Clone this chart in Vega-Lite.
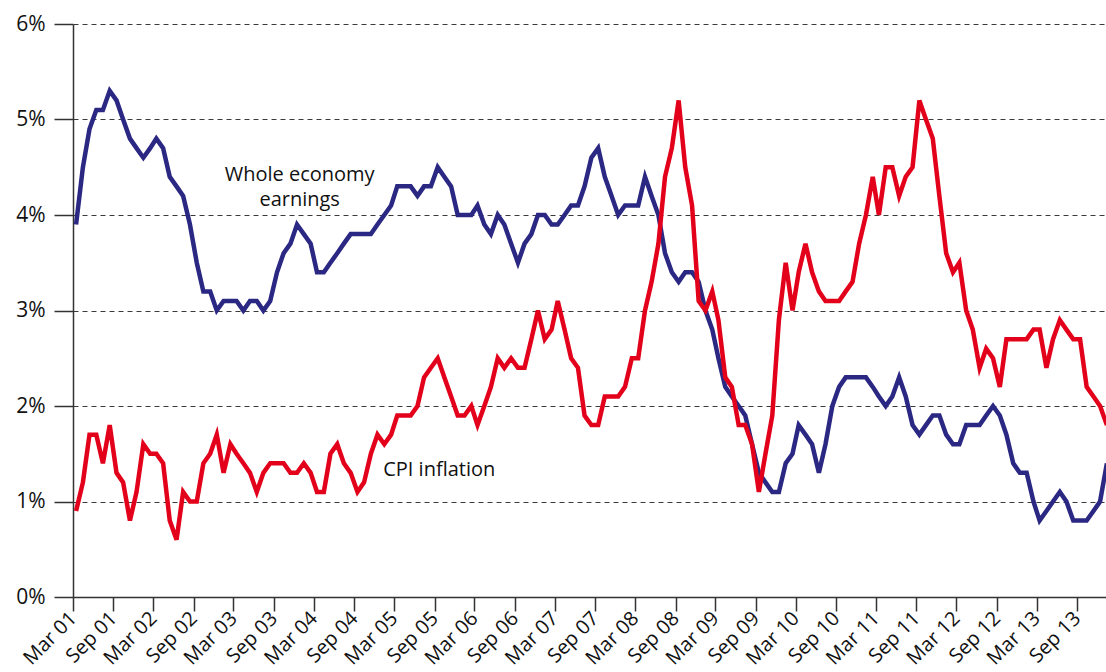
{
  "$schema": "https://vega.github.io/schema/vega-lite/v6.json",
  "width": 1033,
  "height": 573,
  "autosize": {"type": "none"},
  "padding": {"left": 73, "top": 24, "right": 0, "bottom": 75},
  "background": "white",
  "config": {"view": {"stroke": null}, "font": "Open Sans"},
  "data": {
    "values": [
      {"month":"2001-03-15","earnings":3.9,"cpi":0.9},
      {"month":"2001-04-15","earnings":4.5,"cpi":1.2},
      {"month":"2001-05-15","earnings":4.9,"cpi":1.7},
      {"month":"2001-06-15","earnings":5.1,"cpi":1.7},
      {"month":"2001-07-15","earnings":5.1,"cpi":1.4},
      {"month":"2001-08-15","earnings":5.3,"cpi":1.8},
      {"month":"2001-09-15","earnings":5.2,"cpi":1.3},
      {"month":"2001-10-15","earnings":5.0,"cpi":1.2},
      {"month":"2001-11-15","earnings":4.8,"cpi":0.8},
      {"month":"2001-12-15","earnings":4.7,"cpi":1.1},
      {"month":"2002-01-15","earnings":4.6,"cpi":1.6},
      {"month":"2002-02-15","earnings":4.7,"cpi":1.5},
      {"month":"2002-03-15","earnings":4.8,"cpi":1.5},
      {"month":"2002-04-15","earnings":4.7,"cpi":1.4},
      {"month":"2002-05-15","earnings":4.4,"cpi":0.8},
      {"month":"2002-06-15","earnings":4.3,"cpi":0.6},
      {"month":"2002-07-15","earnings":4.2,"cpi":1.1},
      {"month":"2002-08-15","earnings":3.9,"cpi":1.0},
      {"month":"2002-09-15","earnings":3.5,"cpi":1.0},
      {"month":"2002-10-15","earnings":3.2,"cpi":1.4},
      {"month":"2002-11-15","earnings":3.2,"cpi":1.5},
      {"month":"2002-12-15","earnings":3.0,"cpi":1.7},
      {"month":"2003-01-15","earnings":3.1,"cpi":1.3},
      {"month":"2003-02-15","earnings":3.1,"cpi":1.6},
      {"month":"2003-03-15","earnings":3.1,"cpi":1.5},
      {"month":"2003-04-15","earnings":3.0,"cpi":1.4},
      {"month":"2003-05-15","earnings":3.1,"cpi":1.3},
      {"month":"2003-06-15","earnings":3.1,"cpi":1.1},
      {"month":"2003-07-15","earnings":3.0,"cpi":1.3},
      {"month":"2003-08-15","earnings":3.1,"cpi":1.4},
      {"month":"2003-09-15","earnings":3.4,"cpi":1.4},
      {"month":"2003-10-15","earnings":3.6,"cpi":1.4},
      {"month":"2003-11-15","earnings":3.7,"cpi":1.3},
      {"month":"2003-12-15","earnings":3.9,"cpi":1.3},
      {"month":"2004-01-15","earnings":3.8,"cpi":1.4},
      {"month":"2004-02-15","earnings":3.7,"cpi":1.3},
      {"month":"2004-03-15","earnings":3.4,"cpi":1.1},
      {"month":"2004-04-15","earnings":3.4,"cpi":1.1},
      {"month":"2004-05-15","earnings":3.5,"cpi":1.5},
      {"month":"2004-06-15","earnings":3.6,"cpi":1.6},
      {"month":"2004-07-15","earnings":3.7,"cpi":1.4},
      {"month":"2004-08-15","earnings":3.8,"cpi":1.3},
      {"month":"2004-09-15","earnings":3.8,"cpi":1.1},
      {"month":"2004-10-15","earnings":3.8,"cpi":1.2},
      {"month":"2004-11-15","earnings":3.8,"cpi":1.5},
      {"month":"2004-12-15","earnings":3.9,"cpi":1.7},
      {"month":"2005-01-15","earnings":4.0,"cpi":1.6},
      {"month":"2005-02-15","earnings":4.1,"cpi":1.7},
      {"month":"2005-03-15","earnings":4.3,"cpi":1.9},
      {"month":"2005-04-15","earnings":4.3,"cpi":1.9},
      {"month":"2005-05-15","earnings":4.3,"cpi":1.9},
      {"month":"2005-06-15","earnings":4.2,"cpi":2.0},
      {"month":"2005-07-15","earnings":4.3,"cpi":2.3},
      {"month":"2005-08-15","earnings":4.3,"cpi":2.4},
      {"month":"2005-09-15","earnings":4.5,"cpi":2.5},
      {"month":"2005-10-15","earnings":4.4,"cpi":2.3},
      {"month":"2005-11-15","earnings":4.3,"cpi":2.1},
      {"month":"2005-12-15","earnings":4.0,"cpi":1.9},
      {"month":"2006-01-15","earnings":4.0,"cpi":1.9},
      {"month":"2006-02-15","earnings":4.0,"cpi":2.0},
      {"month":"2006-03-15","earnings":4.1,"cpi":1.8},
      {"month":"2006-04-15","earnings":3.9,"cpi":2.0},
      {"month":"2006-05-15","earnings":3.8,"cpi":2.2},
      {"month":"2006-06-15","earnings":4.0,"cpi":2.5},
      {"month":"2006-07-15","earnings":3.9,"cpi":2.4},
      {"month":"2006-08-15","earnings":3.7,"cpi":2.5},
      {"month":"2006-09-15","earnings":3.5,"cpi":2.4},
      {"month":"2006-10-15","earnings":3.7,"cpi":2.4},
      {"month":"2006-11-15","earnings":3.8,"cpi":2.7},
      {"month":"2006-12-15","earnings":4.0,"cpi":3.0},
      {"month":"2007-01-15","earnings":4.0,"cpi":2.7},
      {"month":"2007-02-15","earnings":3.9,"cpi":2.8},
      {"month":"2007-03-15","earnings":3.9,"cpi":3.1},
      {"month":"2007-04-15","earnings":4.0,"cpi":2.8},
      {"month":"2007-05-15","earnings":4.1,"cpi":2.5},
      {"month":"2007-06-15","earnings":4.1,"cpi":2.4},
      {"month":"2007-07-15","earnings":4.3,"cpi":1.9},
      {"month":"2007-08-15","earnings":4.6,"cpi":1.8},
      {"month":"2007-09-15","earnings":4.7,"cpi":1.8},
      {"month":"2007-10-15","earnings":4.4,"cpi":2.1},
      {"month":"2007-11-15","earnings":4.2,"cpi":2.1},
      {"month":"2007-12-15","earnings":4.0,"cpi":2.1},
      {"month":"2008-01-15","earnings":4.1,"cpi":2.2},
      {"month":"2008-02-15","earnings":4.1,"cpi":2.5},
      {"month":"2008-03-15","earnings":4.1,"cpi":2.5},
      {"month":"2008-04-15","earnings":4.4,"cpi":3.0},
      {"month":"2008-05-15","earnings":4.2,"cpi":3.3},
      {"month":"2008-06-15","earnings":4.0,"cpi":3.7},
      {"month":"2008-07-15","earnings":3.6,"cpi":4.4},
      {"month":"2008-08-15","earnings":3.4,"cpi":4.7},
      {"month":"2008-09-15","earnings":3.3,"cpi":5.2},
      {"month":"2008-10-15","earnings":3.4,"cpi":4.5},
      {"month":"2008-11-15","earnings":3.4,"cpi":4.1},
      {"month":"2008-12-15","earnings":3.3,"cpi":3.1},
      {"month":"2009-01-15","earnings":3.0,"cpi":3.0},
      {"month":"2009-02-15","earnings":2.8,"cpi":3.2},
      {"month":"2009-03-15","earnings":2.5,"cpi":2.9},
      {"month":"2009-04-15","earnings":2.2,"cpi":2.3},
      {"month":"2009-05-15","earnings":2.1,"cpi":2.2},
      {"month":"2009-06-15","earnings":2.0,"cpi":1.8},
      {"month":"2009-07-15","earnings":1.9,"cpi":1.8},
      {"month":"2009-08-15","earnings":1.6,"cpi":1.6},
      {"month":"2009-09-15","earnings":1.3,"cpi":1.1},
      {"month":"2009-10-15","earnings":1.2,"cpi":1.5},
      {"month":"2009-11-15","earnings":1.1,"cpi":1.9},
      {"month":"2009-12-15","earnings":1.1,"cpi":2.9},
      {"month":"2010-01-15","earnings":1.4,"cpi":3.5},
      {"month":"2010-02-15","earnings":1.5,"cpi":3.0},
      {"month":"2010-03-15","earnings":1.8,"cpi":3.4},
      {"month":"2010-04-15","earnings":1.7,"cpi":3.7},
      {"month":"2010-05-15","earnings":1.6,"cpi":3.4},
      {"month":"2010-06-15","earnings":1.3,"cpi":3.2},
      {"month":"2010-07-15","earnings":1.6,"cpi":3.1},
      {"month":"2010-08-15","earnings":2.0,"cpi":3.1},
      {"month":"2010-09-15","earnings":2.2,"cpi":3.1},
      {"month":"2010-10-15","earnings":2.3,"cpi":3.2},
      {"month":"2010-11-15","earnings":2.3,"cpi":3.3},
      {"month":"2010-12-15","earnings":2.3,"cpi":3.7},
      {"month":"2011-01-15","earnings":2.3,"cpi":4.0},
      {"month":"2011-02-15","earnings":2.2,"cpi":4.4},
      {"month":"2011-03-15","earnings":2.1,"cpi":4.0},
      {"month":"2011-04-15","earnings":2.0,"cpi":4.5},
      {"month":"2011-05-15","earnings":2.1,"cpi":4.5},
      {"month":"2011-06-15","earnings":2.3,"cpi":4.2},
      {"month":"2011-07-15","earnings":2.1,"cpi":4.4},
      {"month":"2011-08-15","earnings":1.8,"cpi":4.5},
      {"month":"2011-09-15","earnings":1.7,"cpi":5.2},
      {"month":"2011-10-15","earnings":1.8,"cpi":5.0},
      {"month":"2011-11-15","earnings":1.9,"cpi":4.8},
      {"month":"2011-12-15","earnings":1.9,"cpi":4.2},
      {"month":"2012-01-15","earnings":1.7,"cpi":3.6},
      {"month":"2012-02-15","earnings":1.6,"cpi":3.4},
      {"month":"2012-03-15","earnings":1.6,"cpi":3.5},
      {"month":"2012-04-15","earnings":1.8,"cpi":3.0},
      {"month":"2012-05-15","earnings":1.8,"cpi":2.8},
      {"month":"2012-06-15","earnings":1.8,"cpi":2.4},
      {"month":"2012-07-15","earnings":1.9,"cpi":2.6},
      {"month":"2012-08-15","earnings":2.0,"cpi":2.5},
      {"month":"2012-09-15","earnings":1.9,"cpi":2.2},
      {"month":"2012-10-15","earnings":1.7,"cpi":2.7},
      {"month":"2012-11-15","earnings":1.4,"cpi":2.7},
      {"month":"2012-12-15","earnings":1.3,"cpi":2.7},
      {"month":"2013-01-15","earnings":1.3,"cpi":2.7},
      {"month":"2013-02-15","earnings":1.0,"cpi":2.8},
      {"month":"2013-03-15","earnings":0.8,"cpi":2.8},
      {"month":"2013-04-15","earnings":0.9,"cpi":2.4},
      {"month":"2013-05-15","earnings":1.0,"cpi":2.7},
      {"month":"2013-06-15","earnings":1.1,"cpi":2.9},
      {"month":"2013-07-15","earnings":1.0,"cpi":2.8},
      {"month":"2013-08-15","earnings":0.8,"cpi":2.7},
      {"month":"2013-09-15","earnings":0.8,"cpi":2.7},
      {"month":"2013-10-15","earnings":0.8,"cpi":2.2},
      {"month":"2013-11-15","earnings":0.9,"cpi":2.1},
      {"month":"2013-12-15","earnings":1.0,"cpi":2.0},
      {"month":"2014-01-15","earnings":1.4,"cpi":1.8}
    ],
    "format": {"parse": {"month": "date:'%Y-%m-%d'"}}
  },
  "layer": [
    {
      "mark": {"type": "line", "color": "#2b2883", "strokeWidth": 4.5, "clip": true},
      "encoding": {
        "x": {
          "field": "month", "type": "temporal",
          "scale": {"domain": [{"year": 2001, "month": 3, "date": 1}, {"year": 2014, "month": 1, "date": 11}]},
          "axis": {
            "title": null,
            "values": [
              {"year":2001,"month":3,"date":1},{"year":2001,"month":9,"date":1},
              {"year":2002,"month":3,"date":1},{"year":2002,"month":9,"date":1},
              {"year":2003,"month":3,"date":1},{"year":2003,"month":9,"date":1},
              {"year":2004,"month":3,"date":1},{"year":2004,"month":9,"date":1},
              {"year":2005,"month":3,"date":1},{"year":2005,"month":9,"date":1},
              {"year":2006,"month":3,"date":1},{"year":2006,"month":9,"date":1},
              {"year":2007,"month":3,"date":1},{"year":2007,"month":9,"date":1},
              {"year":2008,"month":3,"date":1},{"year":2008,"month":9,"date":1},
              {"year":2009,"month":3,"date":1},{"year":2009,"month":9,"date":1},
              {"year":2010,"month":3,"date":1},{"year":2010,"month":9,"date":1},
              {"year":2011,"month":3,"date":1},{"year":2011,"month":9,"date":1},
              {"year":2012,"month":3,"date":1},{"year":2012,"month":9,"date":1},
              {"year":2013,"month":3,"date":1},{"year":2013,"month":9,"date":1}
            ],
            "format": "%b %y",
            "labelAngle": -45,
            "labelAlign": "right",
            "labelBaseline": "middle",
            "labelFont": "Open Sans",
            "labelFontSize": 20,
            "labelColor": "#111111",
            "labelPadding": 4,
            "labelOverlap": false,
            "labelBound": false,
            "labelFlush": false,
            "tickSize": 14,
            "tickColor": "#333333",
            "tickWidth": 1.5,
            "domainColor": "#333333",
            "domainWidth": 1.5,
            "grid": false
          }
        },
        "y": {
          "field": "earnings", "type": "quantitative",
          "scale": {"domain": [0, 6], "nice": false},
          "axis": {
            "title": null,
            "values": [0, 1, 2, 3, 4, 5, 6],
            "labelExpr": "datum.value + '%'",
            "grid": true,
            "gridDash": [5, 4],
            "gridColor": "#3a3a3a",
            "gridWidth": 1,
            "tickSize": 19,
            "tickColor": "#333333",
            "tickWidth": 1.5,
            "domainColor": "#333333",
            "domainWidth": 1.5,
            "labelPadding": 9,
            "labelFont": "Open Sans",
            "labelFontSize": 21,
            "labelColor": "#111111"
          }
        }
      }
    },
    {
      "mark": {"type": "line", "color": "#e3001b", "strokeWidth": 4.5, "clip": true},
      "encoding": {
        "x": {"field": "month", "type": "temporal"},
        "y": {"field": "cpi", "type": "quantitative"}
      }
    },
    {
      "data": {
        "values": [
          {"day": "2003-12-27", "pos": 4.36, "label": "Whole economy\nearnings"},
          {"day": "2005-09-22", "pos": 1.27, "label": "CPI inflation"}
        ],
        "format": {"parse": {"day": "date:'%Y-%m-%d'"}}
      },
      "mark": {"type": "text", "font": "Open Sans", "fontSize": 20, "align": "center", "baseline": "alphabetic", "color": "#111111", "lineBreak": "\n", "lineHeight": 25},
      "encoding": {
        "x": {"field": "day", "type": "temporal"},
        "y": {"field": "pos", "type": "quantitative"},
        "text": {"field": "label"}
      }
    }
  ]
}
